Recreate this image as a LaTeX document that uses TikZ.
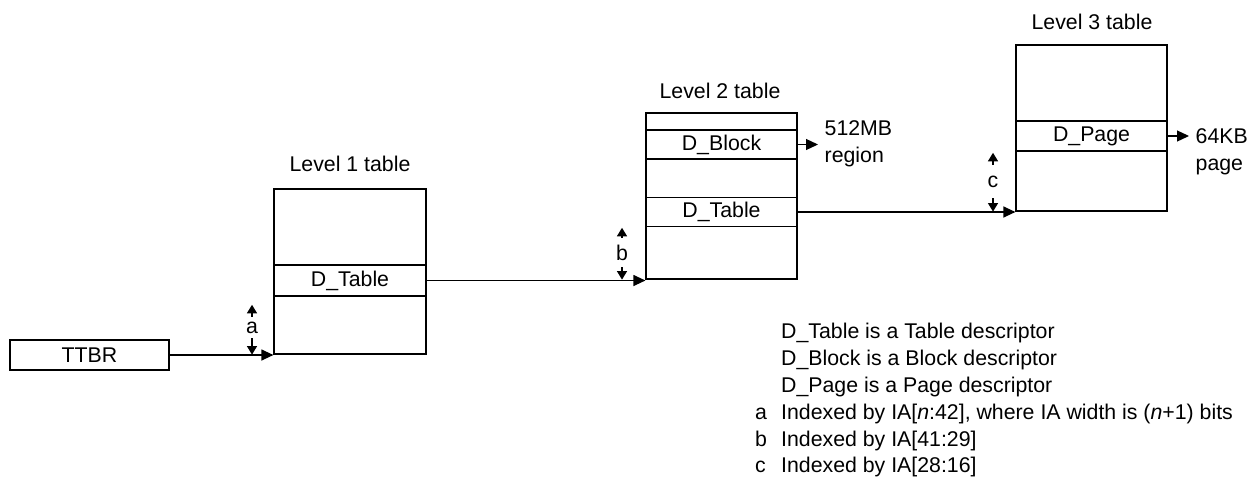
\documentclass[tikz,border=0pt]{standalone}
\usepackage{fontspec}
\setmainfont{Liberation Sans}
\usetikzlibrary{arrows.meta}
\begin{document}
\begin{tikzpicture}[x=1pt,y=-1pt,
  every node/.style={font=\fontsize{21.3}{26.5}\selectfont},
  box/.style={draw,line width=1.2pt,inner sep=0pt},
  lbl/.style={inner sep=0pt},
  idx/.style={inner sep=0pt},
  outlbl/.style={anchor=west,align=left,inner sep=6.5pt},
  legend/.style={anchor=base west,inner sep=0pt},
  bigtip/.style={line width=1.2pt,-{Triangle[length=12pt,width=11pt]}},
  smalltip/.style={line width=1.2pt,-{Triangle[length=8.5pt,width=10pt]}}]
\useasboundingbox (0,0) rectangle (1257,495);

% TTBR
\node[box,minimum width=159pt,minimum height=30pt] (ttbr) at (89.5,355) {TTBR};

% Level 1
\node[box,minimum width=152pt,minimum height=165pt] (l1) at (350,271.5) {};
\node[box,line width=1.5pt,minimum width=152pt,minimum height=31pt] (l1d) at (350,280.5) {D\_Table};
\node[lbl] (l1t) at (350,164) {Level 1 table};

% Level 2
\node[box,minimum width=151pt,minimum height=166pt] (l2) at (721.5,196) {};
\node[box,minimum width=151pt,minimum height=29pt] (l2b) at (721.5,144.5) {D\_Block};
\node[box,minimum width=151pt,minimum height=29pt] (l2d) at (721.5,212) {D\_Table};
\node[lbl] (l2t) at (720,91) {Level 2 table};
\node[outlbl] (r512) at (818,144) {512MB\\region};

% Level 3
\node[box,minimum width=151pt,minimum height=166pt] (l3) at (1091.5,128) {};
\node[box,minimum width=151pt,minimum height=30pt] (l3p) at (1091.5,136) {D\_Page};
\node[lbl] (l3t) at (1092,22) {Level 3 table};
\node[outlbl] (p64) at (1189,152) {64KB\\page};

% connectors
\draw[bigtip] (ttbr.east) -- (ttbr.east -| l1.west);
\draw[bigtip] (l1d.east) -- (l1d.east -| l2.west);
\draw[bigtip] (l2d.east) -- (l2d.east -| l3.west);
\draw[bigtip] (l2b.east) -- (l2b.east -| r512.west);
\draw[bigtip] (l3p.east) -- (l3p.east -| p64.west);

% index markers
\node[idx,minimum height=21pt] (ia) at (252,327.5) {a};
\draw[smalltip] (ia.north) -- ++(0,-12);
\draw[smalltip] (ia.south) -- (ia.south |- l1.south);
\node[idx,minimum height=29pt] (ib) at (622,252.5) {b};
\draw[smalltip] (ib.north) -- ++(0,-10);
\draw[smalltip] (ib.south) -- (ib.south |- l2.south);
\node[idx,minimum height=33pt] (ic) at (993,181.5) {c};
\draw[smalltip] (ic.north) -- ++(0,-12);
\draw[smalltip] (ic.south) -- (ic.south |- l3.south);

% legend
\node[legend] (k1) at (781,338.8) {D\_Table is a Table descriptor};
\node[legend] (k2) at (781,365.6) {D\_Block is a Block descriptor};
\node[legend] (k3) at (781,392.4) {D\_Page is a Page descriptor};
\node[legend] (ka) at (755,419.2) {a};
\node[legend] (ta) at (781,419.2) {Indexed by IA[\textit{n}:42], where IA width is (\textit{n}+1) bits};
\node[legend] (kb) at (755,446) {b};
\node[legend] (tb) at (781,446) {Indexed by IA[41:29]};
\node[legend] (kc) at (755,472.8) {c};
\node[legend] (tc) at (781,472.8) {Indexed by IA[28:16]};
\end{tikzpicture}
\end{document}
